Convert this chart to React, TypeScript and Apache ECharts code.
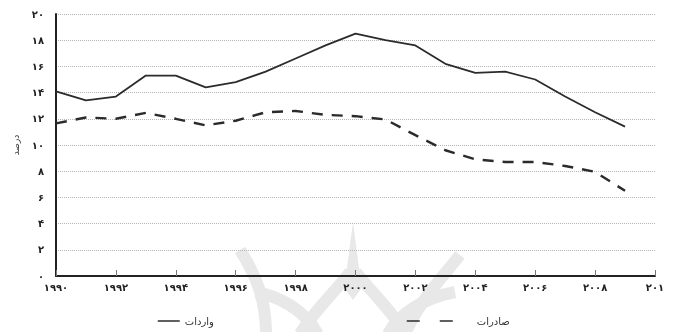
import React, { useEffect, useRef } from "react";
import * as echarts from "echarts";

const years = [1990, 1991, 1992, 1993, 1994, 1995, 1996, 1997, 1998, 1999, 2000, 2001, 2002, 2003, 2004, 2005, 2006, 2007, 2008, 2009];
const imports = [14.1, 13.4, 13.7, 15.3, 15.3, 14.4, 14.8, 15.6, 16.6, 17.6, 18.5, 18.0, 17.6, 16.2, 15.5, 15.6, 15.0, 13.7, 12.5, 11.4];
const exports_ = [11.65, 12.1, 12.0, 12.45, 12.0, 11.5, 11.85, 12.5, 12.6, 12.3, 12.2, 11.95, 10.75, 9.6, 8.9, 8.7, 8.7, 8.4, 7.95, 6.5];
const importsName = "واردات";
const exportsName = "صادرات";
const yAxisName = "درصد";
const lastXLabel = "۲۰۱";

const faDigits = "۰۱۲۳۴۵۶۷۸۹";
const toFa = (v: number | string) => String(v).replace(/[0-9]/g, (d) => faDigits[Number(d)]);

const WM = "#e8e8e8";

export default function App() {
  const ref = useRef<HTMLDivElement>(null);
  useEffect(() => {
    if (!ref.current) return;
    const chart = echarts.init(ref.current, null, { renderer: "svg" });
    const font = "DejaVu Sans, sans-serif";
    const wm = (shape: any, w = 12) => ({
      type: "bezierCurve",
      shape,
      z: -5,
      silent: true,
      style: { stroke: WM, lineWidth: w, fill: null },
    });
    chart.setOption({
      animation: false,
      textStyle: { fontFamily: font },
      grid: { left: 56, right: 18, top: 14, bottom: 56 },
      graphic: [
        wm({ x1: 240, y1: 250, cpx1: 256, cpy1: 275, cpx2: 266, cpy2: 300, x2: 266, y2: 334 }),
        wm({ x1: 256, y1: 292, cpx1: 285, cpy1: 298, cpx2: 305, cpy2: 312, x2: 318, y2: 334 }),
        wm({ x1: 350, y1: 272, cpx1: 335, cpy1: 292, cpx2: 315, cpy2: 310, x2: 300, y2: 334 }),
        wm({ x1: 356, y1: 272, cpx1: 371, cpy1: 292, cpx2: 391, cpy2: 310, x2: 406, y2: 334 }),
        wm({ x1: 460, y1: 255, cpx1: 440, cpy1: 280, cpx2: 420, cpy2: 300, x2: 405, y2: 334 }),
        wm({ x1: 455, y1: 292, cpx1: 425, cpy1: 298, cpx2: 400, cpy2: 312, x2: 388, y2: 334 }),
        {
          type: "polygon",
          z: -5,
          silent: true,
          shape: { points: [[353, 222], [347, 268], [340, 282], [353, 300], [366, 282], [359, 268]] },
          style: { fill: WM },
        },
      ],
      legend: [
        {
          data: [importsName],
          left: 152,
          top: 311,
          itemWidth: 22,
          itemHeight: 10,
          itemStyle: { opacity: 0 },
          textStyle: { fontSize: 10, color: "#333", fontFamily: font },
          lineStyle: { width: 1.5 },
        },
        {
          data: [exportsName],
          left: 401,
          top: 311,
          itemWidth: 65,
          itemHeight: 10,
          itemStyle: { opacity: 0 },
          textStyle: { fontSize: 10, color: "#333", fontFamily: font },
          lineStyle: { width: 1.5, type: [13, 20] },
        },
      ],
      xAxis: {
        type: "value",
        min: 1990,
        max: 2010,
        interval: 2,
        axisLine: { show: true, lineStyle: { color: "#222", width: 2 } },
        axisTick: { show: true, inside: true, length: 6, lineStyle: { color: "#777", width: 1 } },
        splitLine: { show: false },
        axisLabel: {
          color: "#222",
          fontSize: 10,
          fontWeight: "bold",
          margin: 6,
          formatter: (v: number) => (v === 2010 ? lastXLabel : toFa(v)),
        },
      },
      yAxis: {
        type: "value",
        min: 0,
        max: 20,
        interval: 2,
        name: yAxisName,
        nameLocation: "middle",
        nameRotate: 90,
        nameGap: 36,
        nameTextStyle: { fontSize: 9, color: "#333" },
        axisLine: { show: true, lineStyle: { color: "#222", width: 2 } },
        axisTick: { show: false },
        splitLine: { show: true, lineStyle: { color: "#b5b5b5", type: "dotted", width: 1 } },
        axisLabel: {
          color: "#222",
          fontSize: 10,
          fontWeight: "bold",
          margin: 12,
          formatter: (v: number) => toFa(v),
        },
      },
      series: [
        {
          name: importsName,
          type: "line",
          symbol: "none",
          z: 3,
          data: years.map((y, i) => [y, imports[i]]),
          lineStyle: { color: "#2b2b2b", width: 1.8 },
          itemStyle: { color: "#2b2b2b" },
        },
        {
          name: exportsName,
          type: "line",
          symbol: "none",
          z: 3,
          data: years.map((y, i) => [y, exports_[i]]),
          lineStyle: { color: "#2b2b2b", width: 2.4, type: [11, 9] },
          itemStyle: { color: "#2b2b2b" },
        },
      ],
    });
    return () => chart.dispose();
  }, []);
  return <div ref={ref} style={{ position: "fixed", left: 0, top: 0, width: 673, height: 332 }} />;
}
